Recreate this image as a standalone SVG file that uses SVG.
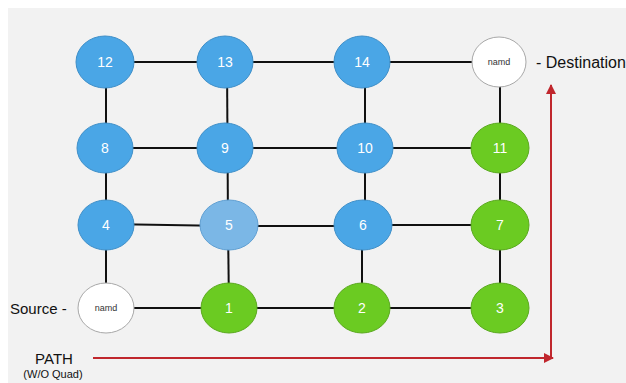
<svg xmlns="http://www.w3.org/2000/svg" width="626" height="383" viewBox="0 0 626 383">
<style>
.n{stroke-width:1}
.blue{fill:#4aa6e6;stroke:#3f8fc8}
.lblue{fill:#7bb7e6;stroke:#5f9fd2}
.green{fill:#6bcb22;stroke:#5aa91e}
.white{fill:#ffffff;stroke:#a8a8a8}
.t{font-family:"Liberation Sans",Arial,sans-serif;font-size:14px;fill:#ffffff;text-anchor:middle;dominant-baseline:central}
.s{font-family:"Liberation Sans",Arial,sans-serif;font-size:9px;fill:#333333;text-anchor:middle;dominant-baseline:central}
.lab{font-family:"Liberation Sans",Arial,sans-serif;font-size:15px;fill:#111111;dominant-baseline:central}
.e{stroke:#111111;stroke-width:2;fill:none}
.r{stroke:#c0272d;stroke-width:2;fill:none}
</style>
<defs>
<marker id="ah" viewBox="0 0 10 10" refX="9" refY="5" markerWidth="5" markerHeight="5" orient="auto" markerUnits="strokeWidth">
<path d="M0,0 L10,5 L0,10 z" fill="#c0272d"/>
</marker>
</defs>
<rect x="0" y="0" width="626" height="383" fill="#ffffff"/>
<rect x="8" y="8" width="618" height="375" fill="#f2f2f2"/>
<g id="connectors">
<line class="e" x1="105" y1="62" x2="499" y2="62"/>
<line class="e" x1="105" y1="148" x2="500" y2="148"/>
<line class="e" x1="106" y1="224" x2="229" y2="226"/>
<line class="e" x1="229" y1="226" x2="363" y2="226"/>
<line class="e" x1="363" y1="225" x2="500" y2="225"/>
<line class="e" x1="106" y1="308" x2="500" y2="308"/>
<line class="e" x1="106" y1="62" x2="106" y2="308"/>
<line class="e" x1="227" y1="62" x2="228" y2="225"/>
<line class="e" x1="228" y1="225" x2="229" y2="308"/>
<line class="e" x1="365" y1="62" x2="365" y2="225"/>
<line class="e" x1="362" y1="225" x2="362" y2="308"/>
<line class="e" x1="500" y1="62" x2="500" y2="308"/>
<polyline class="r" points="93,358 551,358 551,85" marker-end="url(#ah)"/>
<line class="r" x1="540" y1="358" x2="553" y2="358" marker-end="url(#ah)"/>
</g>
<g id="n12"><ellipse class="blue" cx="105" cy="62" rx="29" ry="26"/><text class="t" x="105" y="62">12</text></g>
<g id="n13"><ellipse class="blue" cx="225" cy="62" rx="28" ry="26"/><text class="t" x="225" y="62">13</text></g>
<g id="n14"><ellipse class="blue" cx="362" cy="62" rx="28" ry="26"/><text class="t" x="362" y="62">14</text></g>
<g id="dest"><ellipse class="white" cx="499" cy="62" rx="27" ry="25"/><text class="s" x="499" y="62">namd</text></g>
<g id="n8"><ellipse class="blue" cx="105" cy="148" rx="28" ry="25"/><text class="t" x="105" y="148">8</text></g>
<g id="n9"><ellipse class="blue" cx="225" cy="148" rx="28" ry="25"/><text class="t" x="225" y="148">9</text></g>
<g id="n10"><ellipse class="blue" cx="365" cy="148" rx="28" ry="25"/><text class="t" x="365" y="148">10</text></g>
<g id="n11"><ellipse class="green" cx="500" cy="148" rx="29" ry="25"/><text class="t" x="500" y="148">11</text></g>
<g id="n4"><ellipse class="blue" cx="106" cy="225" rx="28" ry="25"/><text class="t" x="106" y="225">4</text></g>
<g id="n5"><ellipse class="lblue" cx="229" cy="225" rx="29" ry="25"/><text class="t" x="229" y="225">5</text></g>
<g id="n6"><ellipse class="blue" cx="363" cy="225" rx="29" ry="25"/><text class="t" x="363" y="225">6</text></g>
<g id="n7"><ellipse class="green" cx="500" cy="225" rx="29" ry="25"/><text class="t" x="500" y="225">7</text></g>
<g id="src"><ellipse class="white" cx="106" cy="308" rx="28" ry="25"/><text class="s" x="106" y="308">namd</text></g>
<g id="n1"><ellipse class="green" cx="229" cy="308" rx="28" ry="25"/><text class="t" x="229" y="308">1</text></g>
<g id="n2"><ellipse class="green" cx="362" cy="308" rx="28" ry="25"/><text class="t" x="362" y="308">2</text></g>
<g id="n3"><ellipse class="green" cx="500" cy="308" rx="29" ry="25"/><text class="t" x="500" y="308">3</text></g>
<g id="labels">
<text class="lab" x="536" y="62" style="font-size:16px">- Destination</text>
<text class="lab" x="10" y="308">Source -</text>
<text class="lab" x="54" y="358" text-anchor="middle">PATH</text>
<text class="lab" x="53" y="374" text-anchor="middle" style="font-size:11px">(W/O Quad)</text>
</g>
</svg>
